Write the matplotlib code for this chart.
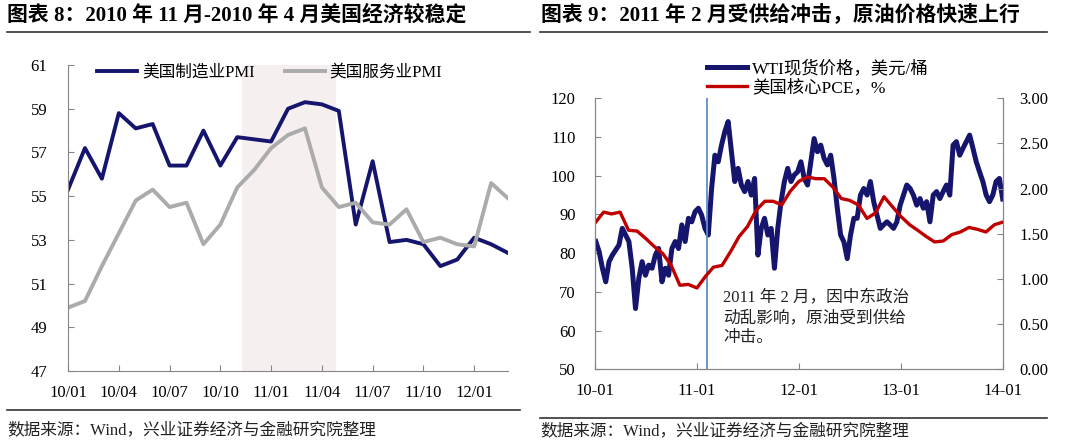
import matplotlib
matplotlib.use("Agg")
import matplotlib.pyplot as plt
import matplotlib.dates as mdates
from matplotlib.lines import Line2D
import pandas as pd

plt.rcParams["font.family"] = ["Liberation Serif", "Noto Sans CJK SC"]
plt.rcParams["font.size"] = 12

NAVY = "#15156E"; GREY = "#ABABAB"; RED = "#C00000"
AXIS = "#868686"; SHADE = "#F6EFEF"; VLINE = "#5B8FC8"

# ---- left chart: monthly PMI, 2010-01 .. 2012-03
pmi_months = pd.period_range("2010-01", "2012-03", freq="M")
mfg_pmi = [55.3, 57.2, 55.8, 58.8, 58.1, 58.3, 56.4, 56.4, 58.0, 56.4,
           57.7, 57.6, 57.5, 59.0, 59.3, 59.2, 58.9, 53.7, 56.6, 52.9,
           53.0, 52.8, 51.8, 52.1, 53.1, 52.8, 52.4]
svc_pmi = [49.9, 50.2, 51.8, 53.3, 54.8, 55.3, 54.5, 54.7, 52.8, 53.7,
           55.4, 56.2, 57.2, 57.8, 58.1, 55.4, 54.5, 54.7, 53.8, 53.7,
           54.4, 52.9, 53.1, 52.8, 52.7, 55.6, 54.9]
shade_span = (10.3, 15.85)   # 2010/11 - 2011/04 highlight

# ---- right chart: WTI spot (sampled ~every 12 days) and monthly core PCE
wti = [83, 80.4, 76.1, 72.6, 77.8, 79.5, 80.8, 82.1, 86.4, 84.7,
       83, 76.1, 65.7, 73.5, 77.8, 74.3, 76.9, 76.1, 79.5, 81.2,
       72.6, 76.1, 74.3, 81.2, 83, 81.2, 87.3, 83, 89, 88.1,
       90.7, 91.6, 89.8, 86.4, 84.7, 96.7, 105.3, 103.6, 107.9, 111.4,
       114, 106.2, 98.5, 101.9, 97.6, 95.9, 98.5, 95, 99.3, 79.5,
       86.4, 89, 84.7, 86.4, 76.1, 86.4, 93.3, 98.5, 101.9, 98.5,
       100.2,
       101.0, 103.6, 99.3, 97.6, 103.6, 109.6, 106.2, 107.9, 104.5, 102.8,
       105.3, 99.3, 91.6, 84.7, 82.9, 78.6, 84.7, 89, 89, 95,
       96.7, 95, 98.5, 93.3, 89.8, 86.4, 87.3, 88.1, 87.3, 86.4,
       88.1, 92.4, 95, 97.6, 96.7, 95, 92.4, 94.1, 91.6, 93.3,
       88.1, 95, 95.9, 94.1, 95.9, 97.6, 95, 107.9, 108.8, 105.3,
       107.1, 108.8, 110.5, 107.1, 103.6, 101, 98.5, 95, 93.3, 95,
       98.5, 99.3, 94]
wti_dates = pd.date_range("2010-01-04", "2013-12-31", periods=len(wti))
pce = [1.62, 1.74, 1.72, 1.74, 1.54, 1.53, 1.45, 1.36, 1.28, 1.15,
       0.93, 0.94, 0.90, 1.03, 1.13, 1.15, 1.30, 1.47, 1.58, 1.76,
       1.86, 1.86, 1.82, 1.97, 2.08, 2.13, 2.11, 2.11, 2.02, 1.89,
       1.87, 1.82, 1.67, 1.73, 1.91, 1.80, 1.69, 1.60, 1.54, 1.47,
       1.41, 1.42, 1.49, 1.52, 1.57, 1.55, 1.52, 1.60, 1.63]
pce_dates = pd.date_range("2010-01-01", periods=len(pce), freq="MS")
shock_date = pd.Timestamp("2011-02-07")


def style(ax, sides):
    for s in ax.spines:
        ax.spines[s].set_visible(s in sides)
        ax.spines[s].set_color(AXIS)
    ax.tick_params(direction="in", length=4, color=AXIS, labelsize=12)


fig = plt.figure(figsize=(10.8, 4.42), dpi=100)

# left
ax1 = fig.add_axes([0.063, 0.1606, 0.4074, 0.6923])
x = range(len(pmi_months))
ax1.axvspan(*shade_span, color=SHADE, lw=0, zorder=0)
ax1.plot(x, mfg_pmi, color=NAVY, lw=2.8, label="美国制造业PMI")
ax1.plot(x, svc_pmi, color=GREY, lw=2.8, label="美国服务业PMI")
ax1.set_xlim(0, len(pmi_months) - 1); ax1.set_ylim(47, 61)
ax1.set_yticks(range(47, 62, 2))
ax1.set_xticks(list(x)[::3])
ax1.set_xticklabels([p.strftime("%y/%m") for p in pmi_months[::3]])
style(ax1, ("left", "bottom"))
ax1.tick_params(axis="y", pad=15); ax1.tick_params(axis="x", pad=10)
ax1.legend(loc="upper left", bbox_to_anchor=(0.066, 1.0), ncol=2, frameon=False,
           handlelength=2.4, handletextpad=0.3, columnspacing=1.8,
           borderaxespad=0, borderpad=0, fontsize=12)

# right
ax2 = fig.add_axes([0.5509, 0.1645, 0.3778, 0.6131])
ax2.plot(wti_dates, wti, color=NAVY, lw=3.6, label="WTI现货价格，美元/桶")
ax2.axvline(shock_date, color=VLINE, lw=1.3)
ax2.set_ylim(50, 120); ax2.set_yticks(range(50, 121, 10))
ax2.set_xlim(pd.Timestamp("2010-01-01"), pd.Timestamp("2014-01-01"))
ax2.xaxis.set_major_locator(mdates.YearLocator())
ax2.xaxis.set_major_formatter(mdates.DateFormatter("%y-%m"))
style(ax2, ("left", "bottom", "right"))
ax2.tick_params(axis="y", pad=14); ax2.tick_params(axis="x", pad=10)
ax3 = ax2.twinx()
ax3.plot(pce_dates, pce, color=RED, lw=2.4, label="美国核心PCE，%")
ax3.set_ylim(0, 3); ax3.set_yticks([0, 0.5, 1, 1.5, 2, 2.5, 3])
ax3.set_yticklabels([f"{v:.2f}" for v in ax3.get_yticks()])
style(ax3, ("left", "bottom", "right"))
ax3.tick_params(axis="y", pad=12)
h = ax2.get_legend_handles_labels()[0] + ax3.get_legend_handles_labels()[0]
ax3.legend(h, [l.get_label() for l in h], loc="upper left",
           bbox_to_anchor=(0.275, 1.14), frameon=False, handlelength=2.3,
           handletextpad=0.3, labelspacing=0.12, borderaxespad=0, borderpad=0,
           fontsize=12.5)
ax2.text(0.314, 0.29, "2011 年 2 月，因中东政治\n动乱影响，原油受到供给\n冲击。",
         transform=ax2.transAxes, ha="left", va="top", fontsize=12,
         linespacing=1.3, color="#222222")

# titles, rules, sources
fig.text(7 / 1080, 1 - 15 / 442, "图表 8：2010 年 11 月-2010 年 4 月美国经济较稳定",
         fontsize=15, fontweight="bold", va="center")
fig.text(541 / 1080, 1 - 15 / 442, "图表 9：2011 年 2 月受供给冲击，原油价格快速上行",
         fontsize=15, fontweight="bold", va="center")
for x0, x1, y in [(7, 530, 32), (540, 1047, 32), (7, 520, 410), (540, 1047, 418)]:
    fig.add_artist(Line2D([x0 / 1080, x1 / 1080], [1 - y / 442] * 2,
                          color="#333333", lw=1.2))
src = "数据来源：Wind，兴业证券经济与金融研究院整理"
fig.text(7 / 1080, 1 - 430 / 442, src, fontsize=12, va="center", color="#222222")
fig.text(540 / 1080, 1 - 431 / 442, src, fontsize=12, va="center", color="#222222")

fig.savefig("out.png", dpi=100)
